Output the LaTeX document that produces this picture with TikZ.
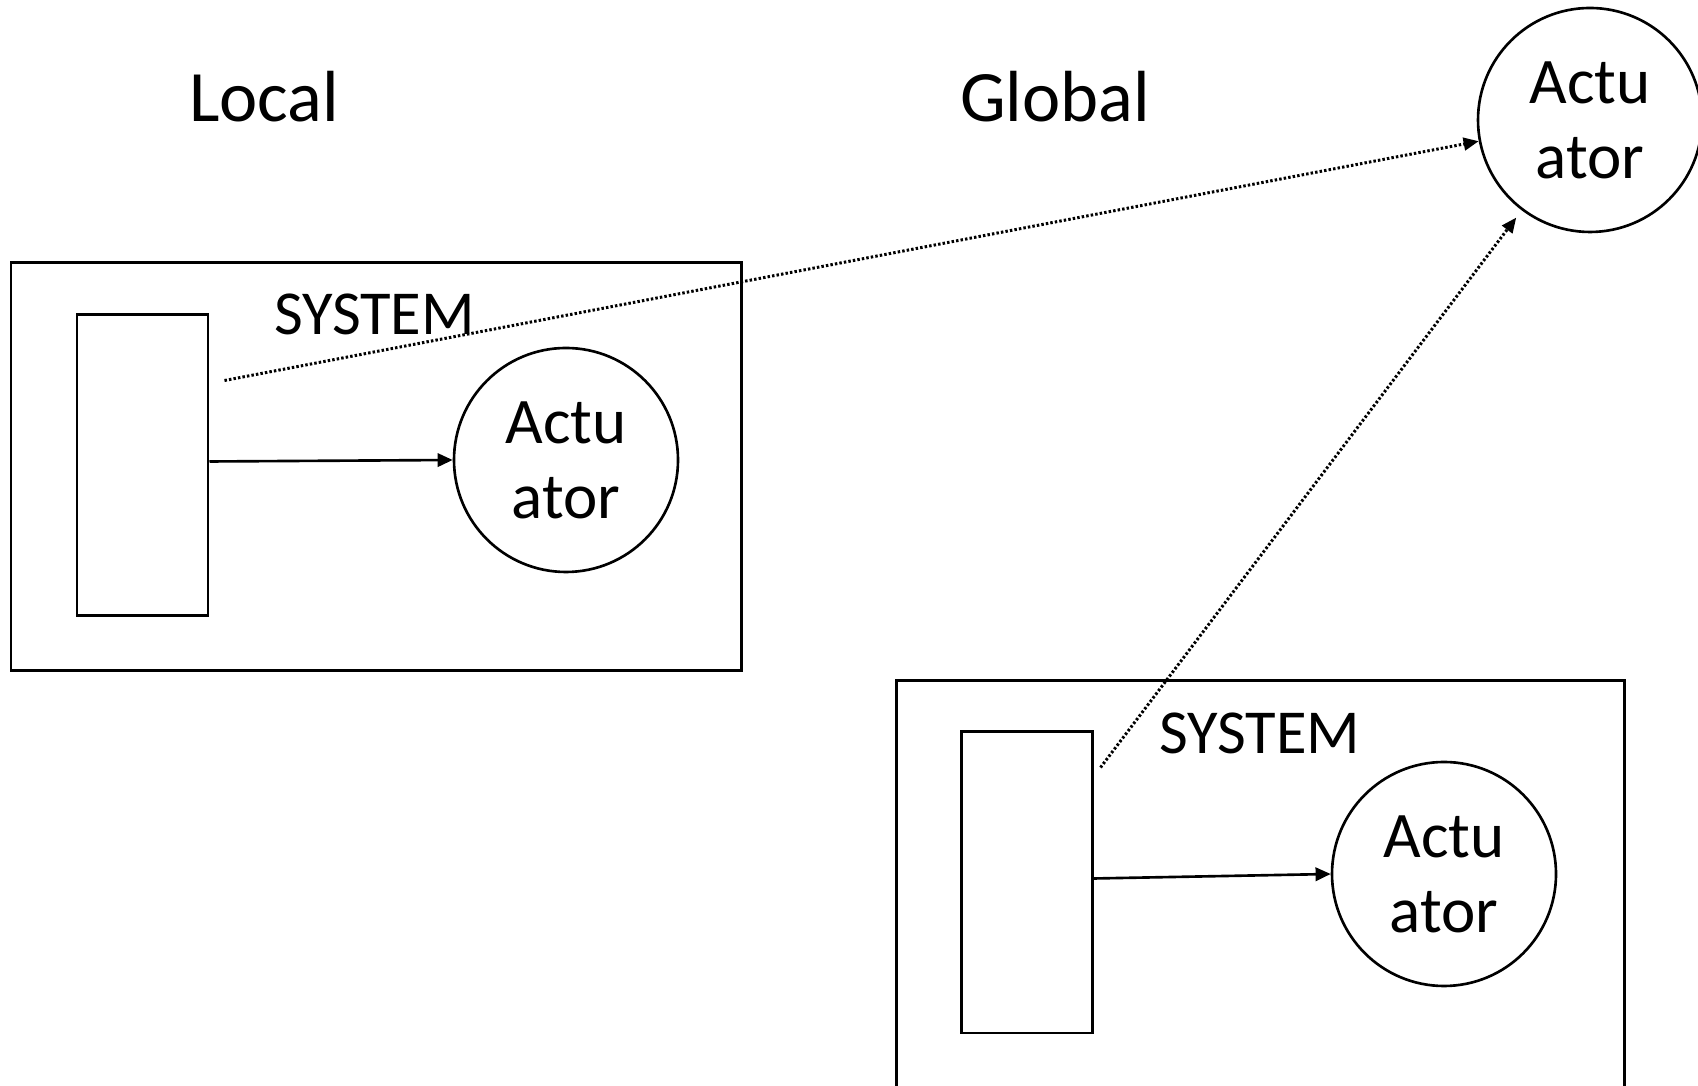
\documentclass[tikz,border=0pt]{standalone}
\usepackage{fontspec}
\setmainfont{Carlito}
\usepackage{tikz}
\usetikzlibrary{arrows.meta, positioning}

\begin{document}
\begin{tikzpicture}[
    actuator/.style={draw, circle, line width=0.75pt, inner sep=0pt, minimum size=2.24cm, align=center, font=\fontsize{18.5}{21.3}\selectfont},
    ctrl/.style={draw, rectangle, line width=0.85pt, inner sep=0pt, minimum width=1.31cm, minimum height=3.01cm},
    label/.style={anchor=base, inner sep=0pt},
    arr/.style={-{Triangle[length=4.3pt, width=3.8pt]}, line width=0.75pt},
    darr/.style={-{Triangle[length=4.3pt, width=3.6pt]}, line width=0.85pt, dash pattern=on 0.7pt off 0.6pt}
]
    \useasboundingbox (0,0) rectangle (16.98,10.86);
    % headings
    \node[label, font=\fontsize{20.6}{25}\selectfont] (local) at (2.64,9.64) {Local};
    \node[label, font=\fontsize{20.6}{25}\selectfont] (global) at (10.55,9.64) {Global};
    % global actuator
    \node[actuator] (actG) at (15.90,9.66) {Actu\\ator};
    % local system
    \draw[line width=0.85pt] (0.11,8.23) rectangle (7.41,4.15);
    \node[label, font=\fontsize{17.8}{21.3}\selectfont] (sysL) at (3.745,7.51) {SYSTEM};
    \node[ctrl] (ctrlL) at (1.425,6.205) {};
    \node[actuator] (actL) at (5.66,6.26) {Actu\\ator};
    % global system
    \draw[line width=0.85pt] (8.96,-0.1) -- (8.96,4.05) -- (16.24,4.05) -- (16.24,-0.1);
    \node[label, font=\fontsize{17.8}{21.3}\selectfont] (sysR) at (12.60,3.32) {SYSTEM};
    \node[ctrl] (ctrlR) at (10.265,2.035) {};
    \node[actuator] (actR) at (14.44,2.12) {Actu\\ator};
    % links
    \draw[arr] ([yshift=0.04cm]ctrlL.east) -- (actL.west);
    \draw[arr] ([yshift=0.04cm]ctrlR.east) -- (actR.west);
    \draw[darr] ([xshift=0.15cm,yshift=-0.67cm]ctrlL.north east) -- (actG);
    \draw[darr, shorten >=0.09cm] ([xshift=0.07cm,yshift=-0.37cm]ctrlR.north east) -- (actG);
\end{tikzpicture}
\end{document}
